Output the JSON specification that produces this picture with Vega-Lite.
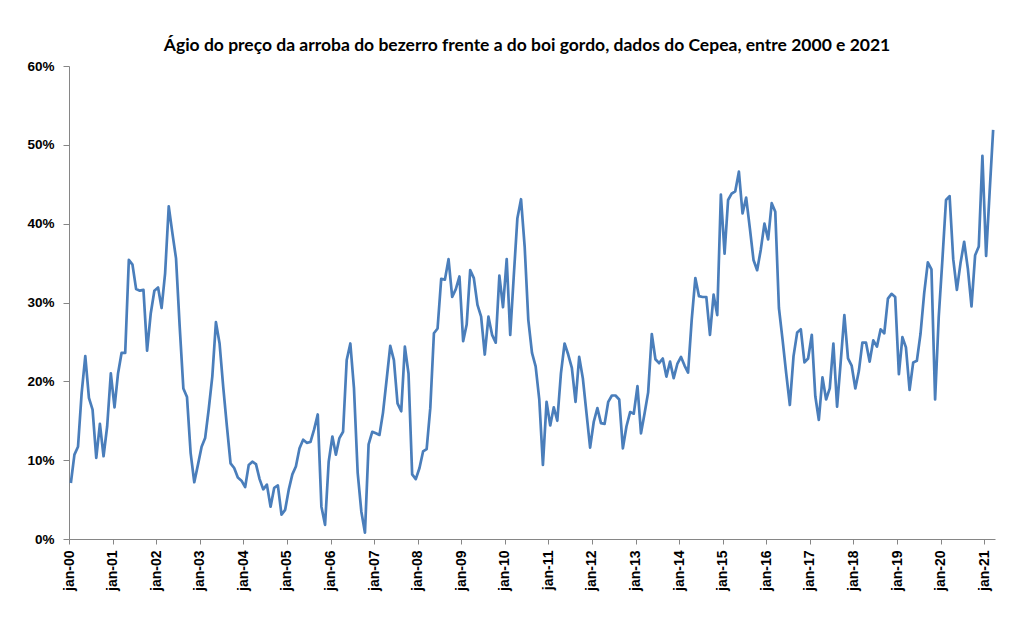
{
  "$schema": "https://vega.github.io/schema/vega-lite/v6.json",
  "width": 926,
  "height": 473,
  "autosize": {"type": "none"},
  "padding": {"left": 69, "top": 66, "right": 18, "bottom": 93},
  "background": "white",
  "title": {
    "text": "Ágio do preço da arroba do bezerro frente a do boi gordo, dados do Cepea, entre 2000 e 2021",
    "font": "Lato",
    "fontSize": 17.5,
    "fontWeight": "bold",
    "color": "#000000",
    "anchor": "middle",
    "baseline": "alphabetic",
    "offset": 15,
    "dx": -5,
    "dy": 24.5
  },
  "datasets": {
    "agio": [
      {"m": "2000-01", "v": 7.1}, {"m": "2000-02", "v": 10.7}, {"m": "2000-03", "v": 11.7}, {"m": "2000-04", "v": 18.5}, {"m": "2000-05", "v": 23.2}, {"m": "2000-06", "v": 17.9}, {"m": "2000-07", "v": 16.4}, {"m": "2000-08", "v": 10.3}, {"m": "2000-09", "v": 14.6}, {"m": "2000-10", "v": 10.5}, {"m": "2000-11", "v": 14.3}, {"m": "2000-12", "v": 21.0},
      {"m": "2001-01", "v": 16.7}, {"m": "2001-02", "v": 21.0}, {"m": "2001-03", "v": 23.6}, {"m": "2001-04", "v": 23.6}, {"m": "2001-05", "v": 35.4}, {"m": "2001-06", "v": 34.8}, {"m": "2001-07", "v": 31.7}, {"m": "2001-08", "v": 31.5}, {"m": "2001-09", "v": 31.6}, {"m": "2001-10", "v": 23.9}, {"m": "2001-11", "v": 28.6}, {"m": "2001-12", "v": 31.5},
      {"m": "2002-01", "v": 31.9}, {"m": "2002-02", "v": 29.3}, {"m": "2002-03", "v": 33.7}, {"m": "2002-04", "v": 42.2}, {"m": "2002-05", "v": 38.8}, {"m": "2002-06", "v": 35.6}, {"m": "2002-07", "v": 27.0}, {"m": "2002-08", "v": 19.1}, {"m": "2002-09", "v": 18.0}, {"m": "2002-10", "v": 10.9}, {"m": "2002-11", "v": 7.2}, {"m": "2002-12", "v": 9.4},
      {"m": "2003-01", "v": 11.7}, {"m": "2003-02", "v": 12.8}, {"m": "2003-03", "v": 16.4}, {"m": "2003-04", "v": 20.6}, {"m": "2003-05", "v": 27.5}, {"m": "2003-06", "v": 24.8}, {"m": "2003-07", "v": 19.3}, {"m": "2003-08", "v": 14.3}, {"m": "2003-09", "v": 9.6}, {"m": "2003-10", "v": 9.0}, {"m": "2003-11", "v": 7.8}, {"m": "2003-12", "v": 7.4},
      {"m": "2004-01", "v": 6.6}, {"m": "2004-02", "v": 9.4}, {"m": "2004-03", "v": 9.8}, {"m": "2004-04", "v": 9.5}, {"m": "2004-05", "v": 7.6}, {"m": "2004-06", "v": 6.3}, {"m": "2004-07", "v": 6.9}, {"m": "2004-08", "v": 4.1}, {"m": "2004-09", "v": 6.5}, {"m": "2004-10", "v": 6.8}, {"m": "2004-11", "v": 3.1}, {"m": "2004-12", "v": 3.7},
      {"m": "2005-01", "v": 6.3}, {"m": "2005-02", "v": 8.2}, {"m": "2005-03", "v": 9.2}, {"m": "2005-04", "v": 11.5}, {"m": "2005-05", "v": 12.6}, {"m": "2005-06", "v": 12.2}, {"m": "2005-07", "v": 12.3}, {"m": "2005-08", "v": 13.9}, {"m": "2005-09", "v": 15.8}, {"m": "2005-10", "v": 4.1}, {"m": "2005-11", "v": 1.8}, {"m": "2005-12", "v": 9.8},
      {"m": "2006-01", "v": 13.0}, {"m": "2006-02", "v": 10.7}, {"m": "2006-03", "v": 12.8}, {"m": "2006-04", "v": 13.6}, {"m": "2006-05", "v": 22.7}, {"m": "2006-06", "v": 24.8}, {"m": "2006-07", "v": 19.1}, {"m": "2006-08", "v": 8.4}, {"m": "2006-09", "v": 3.5}, {"m": "2006-10", "v": 0.8}, {"m": "2006-11", "v": 12.0}, {"m": "2006-12", "v": 13.6},
      {"m": "2007-01", "v": 13.4}, {"m": "2007-02", "v": 13.2}, {"m": "2007-03", "v": 16.0}, {"m": "2007-04", "v": 20.2}, {"m": "2007-05", "v": 24.5}, {"m": "2007-06", "v": 22.7}, {"m": "2007-07", "v": 17.2}, {"m": "2007-08", "v": 16.2}, {"m": "2007-09", "v": 24.4}, {"m": "2007-10", "v": 21.0}, {"m": "2007-11", "v": 8.2}, {"m": "2007-12", "v": 7.6},
      {"m": "2008-01", "v": 9.0}, {"m": "2008-02", "v": 11.1}, {"m": "2008-03", "v": 11.4}, {"m": "2008-04", "v": 16.6}, {"m": "2008-05", "v": 26.1}, {"m": "2008-06", "v": 26.7}, {"m": "2008-07", "v": 33.0}, {"m": "2008-08", "v": 32.9}, {"m": "2008-09", "v": 35.5}, {"m": "2008-10", "v": 30.7}, {"m": "2008-11", "v": 31.7}, {"m": "2008-12", "v": 33.3},
      {"m": "2009-01", "v": 25.1}, {"m": "2009-02", "v": 27.2}, {"m": "2009-03", "v": 34.1}, {"m": "2009-04", "v": 33.1}, {"m": "2009-05", "v": 29.7}, {"m": "2009-06", "v": 28.2}, {"m": "2009-07", "v": 23.4}, {"m": "2009-08", "v": 28.2}, {"m": "2009-09", "v": 25.9}, {"m": "2009-10", "v": 24.9}, {"m": "2009-11", "v": 33.4}, {"m": "2009-12", "v": 29.4},
      {"m": "2010-01", "v": 35.5}, {"m": "2010-02", "v": 25.9}, {"m": "2010-03", "v": 33.3}, {"m": "2010-04", "v": 40.7}, {"m": "2010-05", "v": 43.1}, {"m": "2010-06", "v": 37.1}, {"m": "2010-07", "v": 27.8}, {"m": "2010-08", "v": 23.6}, {"m": "2010-09", "v": 21.9}, {"m": "2010-10", "v": 17.7}, {"m": "2010-11", "v": 9.4}, {"m": "2010-12", "v": 17.4},
      {"m": "2011-01", "v": 14.4}, {"m": "2011-02", "v": 16.7}, {"m": "2011-03", "v": 15.0}, {"m": "2011-04", "v": 21.0}, {"m": "2011-05", "v": 24.8}, {"m": "2011-06", "v": 23.4}, {"m": "2011-07", "v": 21.7}, {"m": "2011-08", "v": 17.4}, {"m": "2011-09", "v": 23.1}, {"m": "2011-10", "v": 20.4}, {"m": "2011-11", "v": 16.0}, {"m": "2011-12", "v": 11.6},
      {"m": "2012-01", "v": 14.9}, {"m": "2012-02", "v": 16.6}, {"m": "2012-03", "v": 14.7}, {"m": "2012-04", "v": 14.6}, {"m": "2012-05", "v": 17.4}, {"m": "2012-06", "v": 18.2}, {"m": "2012-07", "v": 18.2}, {"m": "2012-08", "v": 17.7}, {"m": "2012-09", "v": 11.5}, {"m": "2012-10", "v": 14.3}, {"m": "2012-11", "v": 16.1}, {"m": "2012-12", "v": 15.9},
      {"m": "2013-01", "v": 19.4}, {"m": "2013-02", "v": 13.4}, {"m": "2013-03", "v": 15.9}, {"m": "2013-04", "v": 18.6}, {"m": "2013-05", "v": 26.0}, {"m": "2013-06", "v": 22.8}, {"m": "2013-07", "v": 22.3}, {"m": "2013-08", "v": 22.9}, {"m": "2013-09", "v": 20.6}, {"m": "2013-10", "v": 22.5}, {"m": "2013-11", "v": 20.4}, {"m": "2013-12", "v": 22.2},
      {"m": "2014-01", "v": 23.1}, {"m": "2014-02", "v": 22.0}, {"m": "2014-03", "v": 21.1}, {"m": "2014-04", "v": 27.8}, {"m": "2014-05", "v": 33.1}, {"m": "2014-06", "v": 30.8}, {"m": "2014-07", "v": 30.7}, {"m": "2014-08", "v": 30.7}, {"m": "2014-09", "v": 25.9}, {"m": "2014-10", "v": 31.0}, {"m": "2014-11", "v": 28.4}, {"m": "2014-12", "v": 43.7},
      {"m": "2015-01", "v": 36.2}, {"m": "2015-02", "v": 43.0}, {"m": "2015-03", "v": 43.8}, {"m": "2015-04", "v": 44.1}, {"m": "2015-05", "v": 46.6}, {"m": "2015-06", "v": 41.3}, {"m": "2015-07", "v": 43.3}, {"m": "2015-08", "v": 39.4}, {"m": "2015-09", "v": 35.4}, {"m": "2015-10", "v": 34.1}, {"m": "2015-11", "v": 36.7}, {"m": "2015-12", "v": 40.0},
      {"m": "2016-01", "v": 38.0}, {"m": "2016-02", "v": 42.6}, {"m": "2016-03", "v": 41.5}, {"m": "2016-04", "v": 29.3}, {"m": "2016-05", "v": 25.3}, {"m": "2016-06", "v": 21.0}, {"m": "2016-07", "v": 17.0}, {"m": "2016-08", "v": 23.2}, {"m": "2016-09", "v": 26.2}, {"m": "2016-10", "v": 26.6}, {"m": "2016-11", "v": 22.4}, {"m": "2016-12", "v": 22.9},
      {"m": "2017-01", "v": 25.9}, {"m": "2017-02", "v": 18.1}, {"m": "2017-03", "v": 15.1}, {"m": "2017-04", "v": 20.5}, {"m": "2017-05", "v": 17.7}, {"m": "2017-06", "v": 19.1}, {"m": "2017-07", "v": 24.8}, {"m": "2017-08", "v": 16.8}, {"m": "2017-09", "v": 22.5}, {"m": "2017-10", "v": 28.4}, {"m": "2017-11", "v": 22.9}, {"m": "2017-12", "v": 22.0},
      {"m": "2018-01", "v": 19.1}, {"m": "2018-02", "v": 21.3}, {"m": "2018-03", "v": 24.9}, {"m": "2018-04", "v": 24.9}, {"m": "2018-05", "v": 22.5}, {"m": "2018-06", "v": 25.2}, {"m": "2018-07", "v": 24.4}, {"m": "2018-08", "v": 26.6}, {"m": "2018-09", "v": 26.1}, {"m": "2018-10", "v": 30.5}, {"m": "2018-11", "v": 31.1}, {"m": "2018-12", "v": 30.7},
      {"m": "2019-01", "v": 20.9}, {"m": "2019-02", "v": 25.6}, {"m": "2019-03", "v": 24.3}, {"m": "2019-04", "v": 18.9}, {"m": "2019-05", "v": 22.4}, {"m": "2019-06", "v": 22.6}, {"m": "2019-07", "v": 26.0}, {"m": "2019-08", "v": 31.2}, {"m": "2019-09", "v": 35.1}, {"m": "2019-10", "v": 34.2}, {"m": "2019-11", "v": 17.7}, {"m": "2019-12", "v": 28.2},
      {"m": "2020-01", "v": 35.5}, {"m": "2020-02", "v": 43.0}, {"m": "2020-03", "v": 43.5}, {"m": "2020-04", "v": 35.5}, {"m": "2020-05", "v": 31.6}, {"m": "2020-06", "v": 35.0}, {"m": "2020-07", "v": 37.7}, {"m": "2020-08", "v": 34.3}, {"m": "2020-09", "v": 29.5}, {"m": "2020-10", "v": 36.0}, {"m": "2020-11", "v": 37.1}, {"m": "2020-12", "v": 48.6},
      {"m": "2021-01", "v": 35.9}, {"m": "2021-02", "v": 44.0}, {"m": "2021-03", "v": 51.9}
    ]
  },
  "data": {"name": "agio"},
  "mark": {"type": "line", "color": "#4A7EBB", "strokeWidth": 2.7, "strokeJoin": "round", "clip": false},
  "encoding": {
    "x": {
      "field": "m",
      "timeUnit": "utcyearmonth",
      "type": "temporal",
      "bandPosition": 0.5,
      "scale": {"domain": [{"year": 2000, "month": 1, "date": 1, "utc": true}, {"year": 2021, "month": 4, "date": 1, "utc": true}]},
      "axis": {
        "title": null,
        "tickCount": {"interval": "year", "step": 1},
        "labelExpr": "'jan-' + utcFormat(datum.value, '%y')",
        "labelAngle": -90,
        "labelFont": "Liberation Sans",
        "labelFontSize": 14,
        "labelFontWeight": "bold",
        "labelColor": "#000000",
        "labelPadding": 6,
        "tickSize": 5,
        "tickColor": "#868686",
        "domainColor": "#868686",
        "grid": false,
        "labelOverlap": false,
        "labelFlush": false,
        "labelBound": false
      }
    },
    "y": {
      "field": "v",
      "type": "quantitative",
      "scale": {"domain": [0, 60], "nice": false},
      "axis": {
        "title": null,
        "values": [0, 10, 20, 30, 40, 50, 60],
        "labelExpr": "datum.value + '%'",
        "labelFont": "Liberation Sans",
        "labelFontSize": 13.5,
        "labelFontWeight": "bold",
        "labelColor": "#000000",
        "labelPadding": 9,
        "tickSize": 6,
        "tickColor": "#868686",
        "domainColor": "#868686",
        "grid": false,
        "labelOverlap": false
      }
    }
  },
  "config": {"view": {"stroke": null}}
}
